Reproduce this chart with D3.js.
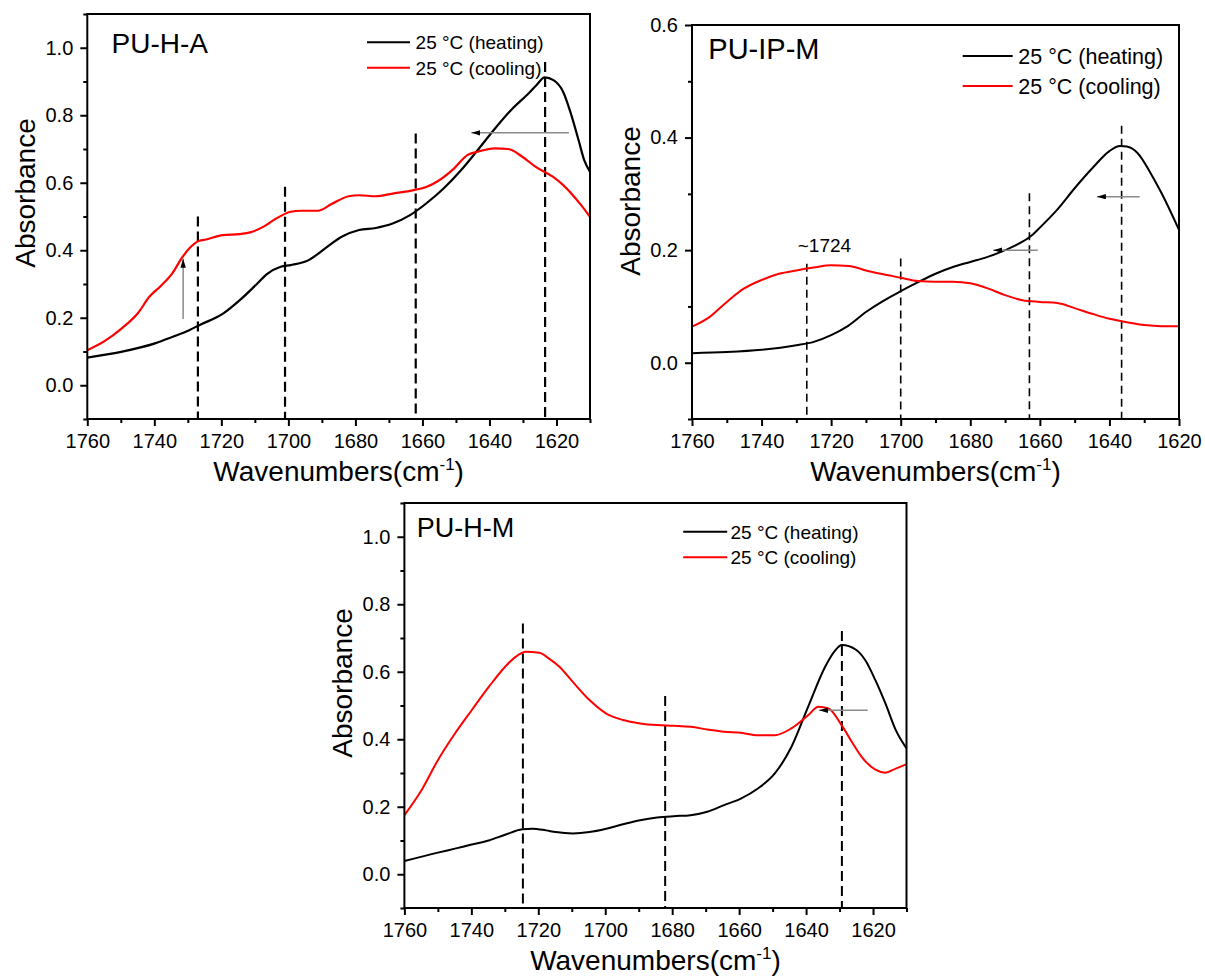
<!DOCTYPE html>
<meta charset="utf-8">
<head>
    <title>FTIR spectra, heating vs cooling</title>
</head>
<style>
  body { margin: 0; background: #fff; }
  svg { font-family: "Liberation Sans", Arial, sans-serif; }
  .tick text { font-size: 20px; fill: #000; }
  .tick line { stroke: #000; stroke-width: 2px; }
</style>
<body>
<script src="https://cdn.jsdelivr.net/npm/d3@7"></script>
<script>
// ---- data ----
var xMajor = [1760, 1740, 1720, 1700, 1680, 1660, 1640, 1620];
var xMinor = [1750, 1730, 1710, 1690, 1670, 1650, 1630, 1610];
var yMajorA = [0, 0.2, 0.4, 0.6, 0.8, 1.0];
var yMinorA = [-0.1, 0.1, 0.3, 0.5, 0.7, 0.9, 1.1];
var yMajorB = [0, 0.2, 0.4, 0.6];
var yMinorB = [-0.1, 0.1, 0.3, 0.5];
var seriesNames = ["25 \u00B0C (heating)", "25 \u00B0C (cooling)"];

// PU-H-A
var phaHeatWn = [1760,1749.9,1739.8,1734.7,1729.6,1726.6,1719.5,1714.5,1709.4,1706.3,1702.3,1699.3,1694.1,1689.1,1684.1,1678.9,1673.9,1668.9,1663.7,1658.7,1653.7,1648.5,1643.5,1638.4,1633.3,1628.2,1626,1623.5,1620.9,1618,1615.7,1613.4,1611.7,1610];
var phaHeatAbs = [0.082,0.099,0.124,0.143,0.163,0.178,0.212,0.252,0.300,0.330,0.351,0.356,0.370,0.405,0.440,0.460,0.466,0.479,0.504,0.540,0.583,0.637,0.697,0.760,0.818,0.866,0.889,0.912,0.904,0.869,0.805,0.726,0.666,0.632];
var phaCoolWn = [1760,1755,1749.8,1744.8,1741.5,1738,1734.7,1731.6,1729.6,1726.6,1724.6,1719.5,1714.5,1711.4,1707.4,1704.3,1699.3,1696.2,1691.2,1687.1,1682,1678.9,1673.9,1668.9,1663.7,1658.7,1655.7,1650.6,1646.6,1643.5,1638.4,1634.4,1630.2,1626.2,1621.1,1618,1613,1610];
var phaCoolAbs = [0.104,0.130,0.168,0.215,0.262,0.295,0.331,0.380,0.405,0.428,0.432,0.445,0.448,0.453,0.470,0.490,0.514,0.517,0.517,0.537,0.560,0.563,0.560,0.568,0.576,0.588,0.603,0.642,0.682,0.692,0.702,0.700,0.677,0.647,0.618,0.593,0.538,0.499];
var phaDashWn = [1727, 1701, 1662, 1623.4];
var phaDashTop = [0.50, 0.588, 0.746, 0.958];
var phaArrows = [[1731.4, 0.196, 1731.4, 0.375], [1616.3, 0.748, 1645.4, 0.748]];

// PU-IP-M
var pipHeatWn = [1760,1750,1740,1730,1725,1720,1715,1710,1705,1700,1695,1690,1685,1680,1675,1670,1665,1662,1660,1655,1650,1645,1640,1637,1635,1632,1628,1625,1620];
var pipHeatAbs = [0.017,0.019,0.023,0.031,0.037,0.049,0.066,0.090,0.110,0.127,0.143,0.158,0.170,0.179,0.188,0.200,0.215,0.228,0.240,0.272,0.310,0.345,0.376,0.385,0.384,0.373,0.335,0.301,0.236];
var pipCoolWn = [1760,1755,1750,1745,1740,1735,1730,1725,1720,1715,1710,1705,1700,1695,1690,1685,1680,1675,1670,1665,1660,1655,1650,1645,1640,1635,1630,1625,1620];
var pipCoolAbs = [0.064,0.081,0.108,0.132,0.147,0.158,0.164,0.169,0.173,0.172,0.164,0.157,0.151,0.145,0.144,0.144,0.141,0.132,0.120,0.111,0.108,0.106,0.097,0.087,0.078,0.072,0.067,0.065,0.065];
var pipDashWn = [1727, 1700, 1663, 1636.5];
var pipDashTop = [0.176, 0.185, 0.301, 0.421];
var pipArrows = [[1660.6, 0.2, 1673.4, 0.2], [1631.3, 0.295, 1643.6, 0.295]];
var pipNote = {wn: 1729.6, abs: 0.197, text: "~1724"};

// PU-H-M
var phmHeatWn = [1760,1750,1744.9,1739.9,1734.8,1729.9,1724.8,1721.7,1717.7,1714.8,1709.7,1704.7,1699.7,1694.7,1689.6,1684.5,1679.6,1674.5,1669.5,1664.5,1659.5,1654.4,1649.4,1644.4,1639.4,1634.3,1631.4,1629.3,1625.2,1622.3,1619.3,1616.3,1613.2,1610];
var phmHeatAbs = [0.039,0.064,0.076,0.088,0.100,0.117,0.133,0.135,0.130,0.125,0.121,0.125,0.135,0.148,0.160,0.168,0.172,0.175,0.185,0.205,0.224,0.254,0.298,0.377,0.496,0.615,0.662,0.679,0.666,0.634,0.575,0.506,0.427,0.373];
var phmCoolWn = [1760,1754.9,1750,1744.9,1739.9,1734.8,1729.9,1726.8,1723.7,1719.7,1716.8,1713.7,1709.7,1704.7,1699.7,1694.7,1689.6,1684.5,1679.6,1674.5,1669.5,1664.5,1659.5,1654.4,1649.4,1644.4,1639.4,1636.3,1633.3,1629.4,1626.3,1623.4,1619.3,1616.3,1613.2,1610];
var phmCoolAbs = [0.175,0.249,0.338,0.417,0.486,0.555,0.615,0.644,0.659,0.656,0.639,0.615,0.570,0.516,0.476,0.457,0.447,0.442,0.440,0.437,0.429,0.422,0.419,0.412,0.412,0.432,0.471,0.496,0.491,0.442,0.392,0.348,0.310,0.301,0.313,0.326];
var phmDashWn = [1724.6, 1682.1, 1629.3];
var phmDashTop = [0.743, 0.528, 0.721];
var phmArrows = [[1621.6, 0.486, 1636.1, 0.486]];

// ---- layout of the three panels ----
var panels = [
  {name: "PU-H-A", left: 87.3, right: 590, top: 14, bottom: 419,
   xDom: [1760, 1610], yDom: [-0.1, 1.1], yMajor: yMajorA, yMinor: yMinorA,
   heat: [phaHeatWn, phaHeatAbs], cool: [phaCoolWn, phaCoolAbs],
   dashWn: phaDashWn, dashTop: phaDashTop, arrows: phaArrows,
   titleDx: 24.3, titleDy: 39.3, titleSize: 28,
   legX1: 223, legX2: 180, legTx: 174.4, legY1: 28.3, legY2: 53.7, legSize: 19,
   ylabY: 193, dash: "10,5", dashW: 2.2, lineW: 2.2},
  {name: "PU-IP-M", left: 692, right: 1179, top: 25, bottom: 419,
   xDom: [1760, 1620], yDom: [-0.1, 0.6], yMajor: yMajorB, yMinor: yMinorB,
   heat: [pipHeatWn, pipHeatAbs], cool: [pipCoolWn, pipCoolAbs],
   dashWn: pipDashWn, dashTop: pipDashTop, arrows: pipArrows, note: pipNote,
   titleDx: 16.3, titleDy: 34.3, titleSize: 29,
   legX1: 216.3, legX2: 166.3, legTx: 160.7, legY1: 31, legY2: 61, legSize: 21.5,
   ylabY: 201, dash: "8,5", dashW: 1.6, lineW: 2},
  {name: "PU-H-M", left: 404.4, right: 906.5, top: 503, bottom: 908,
   xDom: [1760, 1610], yDom: [-0.1, 1.1], yMajor: yMajorA, yMinor: yMinorA,
   heat: [phmHeatWn, phmHeatAbs], cool: [phmCoolWn, phmCoolAbs],
   dashWn: phmDashWn, dashTop: phmDashTop, arrows: phmArrows,
   titleDx: 12.4, titleDy: 33.7, titleSize: 27,
   legX1: 223.3, legX2: 179.3, legTx: 176, legY1: 28.7, legY2: 54.3, legSize: 19,
   ylabY: 683, dash: "10,5", dashW: 2, lineW: 2}
];

var svg = d3.select("body").append("svg")
    .attr("width", 1205)
    .attr("height", 976);

svg.append("rect").attr("width", 1205).attr("height", 976).attr("fill", "#fff");

// arrow head
svg.append("defs").append("marker")
    .attr("id", "head")
    .attr("viewBox", "0 0 10 6")
    .attr("refX", 10).attr("refY", 3)
    .attr("markerWidth", 9).attr("markerHeight", 5.5)
    .attr("markerUnits", "userSpaceOnUse")
    .attr("orient", "auto")
  .append("path")
    .attr("d", "M0,0L10,3L0,6Z")
    .attr("fill", "#000");

panels.forEach(drawPanel);

function drawPanel(p) {
  var x = d3.scaleLinear().domain(p.xDom).range([p.left, p.right]);
  var y = d3.scaleLinear().domain(p.yDom).range([p.bottom, p.top]);
  var g = svg.append("g");
  var noDomain = function(s) { s.select(".domain").remove(); };

  // x axis: minor then major ticks
  var minorX = xMinor.filter(function(v) { return v >= p.xDom[1]; });
  g.append("g")
      .attr("transform", "translate(0," + p.bottom + ")")
      .call(d3.axisBottom(x).tickValues(minorX).tickSize(4).tickFormat(""))
      .call(noDomain);
  g.append("g")
      .attr("transform", "translate(0," + p.bottom + ")")
      .call(d3.axisBottom(x).tickValues(xMajor).tickSize(7).tickPadding(8).tickFormat(d3.format("d")))
      .call(noDomain);

  // y axis
  g.append("g")
      .attr("transform", "translate(" + p.left + ",0)")
      .call(d3.axisLeft(y).tickValues(p.yMinor).tickSize(4).tickFormat(""))
      .call(noDomain);
  g.append("g")
      .attr("transform", "translate(" + p.left + ",0)")
      .call(d3.axisLeft(y).tickValues(p.yMajor).tickSize(7).tickPadding(7).tickFormat(d3.format(".1f")))
      .call(noDomain);

  // axis titles
  g.append("text")
      .attr("transform", "translate(" + (p.left - 52.5) + "," + p.ylabY + ") rotate(-90)")
      .attr("text-anchor", "middle")
      .style("font-size", "28px")
      .text("Absorbance");

  var xt = g.append("text")
      .attr("x", (p.left + p.right) / 2)
      .attr("y", p.bottom + 62)
      .attr("text-anchor", "middle")
      .style("font-size", "28px");
  xt.append("tspan").text("Wavenumbers(cm");
  xt.append("tspan").attr("dy", -11).style("font-size", "17px").text("-1");
  xt.append("tspan").attr("dy", 11).text(")");

  // dashed guide lines
  g.selectAll(".guide")
      .data(p.dashWn)
      .enter()
      .append("line")
      .attr("x1", function(d) { return x(d); })
      .attr("x2", function(d) { return x(d); })
      .attr("y1", function(d, i) { return y(p.dashTop[i]); })
      .attr("y2", y(p.yDom[0]))
      .attr("stroke", "#000")
      .attr("stroke-width", p.dashW)
      .attr("stroke-dasharray", p.dash);

  // spectra
  var line = d3.line()
      .x(function(d) { return x(d[0]); })
      .y(function(d) { return y(d[1]); })
      .curve(d3.curveMonotoneX);
  [[p.heat, "#000"], [p.cool, "#ff0000"]].forEach(function(s) {
    g.append("path")
        .datum(d3.zip(s[0][0], s[0][1]))
        .attr("d", line)
        .attr("fill", "none")
        .attr("stroke", s[1])
        .attr("stroke-width", p.lineW);
  });

  // shift arrows
  g.selectAll(".arrow")
      .data(p.arrows)
      .enter()
      .append("line")
      .attr("x1", function(d) { return x(d[0]); })
      .attr("y1", function(d) { return y(d[1]); })
      .attr("x2", function(d) { return x(d[2]); })
      .attr("y2", function(d) { return y(d[3]); })
      .attr("stroke", "#8a8a8a")
      .attr("stroke-width", 1.5)
      .attr("marker-end", "url(#head)");

  if (p.note) {
    g.append("text")
        .attr("x", x(p.note.wn))
        .attr("y", y(p.note.abs))
        .style("font-size", "19px")
        .text(p.note.text);
  }

  // legend
  [[p.legY1, "#000"], [p.legY2, "#ff0000"]].forEach(function(l, i) {
    g.append("line")
        .attr("x1", p.right - p.legX1)
        .attr("x2", p.right - p.legX2)
        .attr("y1", p.top + l[0])
        .attr("y2", p.top + l[0])
        .attr("stroke", l[1])
        .attr("stroke-width", 2);
    g.append("text")
        .attr("x", p.right - p.legTx)
        .attr("y", p.top + l[0] + 0.36 * p.legSize)
        .style("font-size", p.legSize + "px")
        .text(seriesNames[i]);
  });

  // panel name
  g.append("text")
      .attr("x", p.left + p.titleDx)
      .attr("y", p.top + p.titleDy)
      .style("font-size", p.titleSize + "px")
      .text(p.name);

  // frame
  g.append("rect")
      .attr("x", p.left)
      .attr("y", p.top)
      .attr("width", p.right - p.left)
      .attr("height", p.bottom - p.top)
      .attr("fill", "none")
      .attr("stroke", "#000")
      .attr("stroke-width", 2);
}
</script>
</body>
